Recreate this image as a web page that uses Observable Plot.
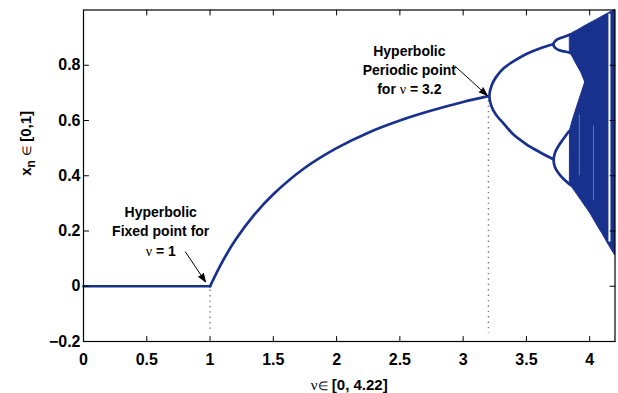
<!DOCTYPE html>
<html>
<head>
<meta charset="utf-8">
<script src="https://cdn.jsdelivr.net/npm/d3@7"></script>
<script src="https://cdn.jsdelivr.net/npm/@observablehq/plot@0.6"></script>
<style>
  html, body { margin: 0; padding: 0; background: #fff; }
  #chart svg { display: block; }
</style>
</head>
<body>
<div id="chart"></div>
<script>
// Logistic map x_{n+1} = ν x_n (1 − x_n): attractor against the parameter ν

// Axis ticks
const xTicks = [0, 0.5, 1, 1.5, 2, 2.5, 3, 3.5, 4];
const yTicks = [-0.2, 0, 0.2, 0.4, 0.6, 0.8];

// Stable fixed point x = 0 (ν ≤ 1)
const zeroNu = [0, 1];
const zeroX = [0, 0];

// Non-trivial fixed point, from ν = 1 up to the first period doubling
const fixedNu = [1, 1.1, 1.2, 1.35, 1.5, 1.75, 2, 2.25, 2.5, 2.75, 3, 3.2];
const fixedX = [0, 0.091, 0.167, 0.259, 0.333, 0.429, 0.5, 0.556, 0.6, 0.636, 0.667, 0.688];

// Period-2 orbit: lower branch (right to left), split point, upper branch
const period2Nu = [3.712, 3.6, 3.5, 3.4, 3.32, 3.26, 3.225, 3.207, 3.225, 3.26, 3.32, 3.4, 3.5, 3.6, 3.712];
const period2X = [0.460, 0.487, 0.514, 0.548, 0.589, 0.621, 0.650, 0.688, 0.727, 0.757, 0.789, 0.815, 0.841, 0.860, 0.876];

// Period-4 bubbles growing out of each period-2 branch
const bubbleHiNu = [3.85, 3.8, 3.76, 3.73, 3.712, 3.73, 3.76, 3.8, 3.85];
const bubbleHiX = [0.845, 0.850, 0.854, 0.862, 0.876, 0.889, 0.897, 0.903, 0.912];
const bubbleLoNu = [3.85, 3.79, 3.75, 3.725, 3.715, 3.725, 3.752, 3.79, 3.835];
const bubbleLoX = [0.366, 0.390, 0.412, 0.432, 0.456, 0.482, 0.507, 0.532, 0.560];

// Chaotic bands: upper band, lower band, then the merged band
const upperBandNu = [3.845, 3.87, 3.9, 3.93, 3.965];
const upperBandHi = [0.911, 0.918, 0.925, 0.933, 0.942];
const upperBandLo = [0.846, 0.826, 0.800, 0.776, 0.738];

const lowerBandNu = [3.845, 3.87, 3.9, 3.93, 3.965];
const lowerBandHi = [0.565, 0.605, 0.648, 0.690, 0.738];
const lowerBandLo = [0.369, 0.352, 0.333, 0.313, 0.290];

const mergedNu = [3.965, 4.0, 4.05, 4.1, 4.15, 4.2];
const mergedHi = [0.942, 0.951, 0.963, 0.976, 0.988, 1.0];
const mergedLo = [0.290, 0.267, 0.228, 0.190, 0.150, 0.112];

// Periodic windows inside the chaotic region
const windowNu = [4.156];
const windowLo = [0.16];
const windowHi = [0.985];
const faintNu = [3.918, 4.03];
const faintLo = [0.40, 0.31];
const faintHi = [0.62, 0.58];

// Dotted guides under the two hyperbolic points
const guideNu = [1, 3.2];
const guideTop = [-0.014, 0.672];
const guideBottom = [-0.17, -0.17];

// Annotations and their arrows
const noteText = ["Hyperbolic\nFixed point for\nν = 1", "Hyperbolic\nPeriodic point\nfor ν = 3.2"];
const noteNu = [0.61, 2.575];
const noteX = [0.30, 0.884];
const arrowFromNu = [0.806, 2.94];
const arrowFromX = [0.124, 0.795];
const arrowToNu = [0.964, 3.19];
const arrowToX = [0.016, 0.691];

const xLabel = "ν∈ [0, 4.22]";
const yLabel = "x_n ∈ [0,1]";

const lineColor = "#18318d";
const sans = "'Liberation Sans', Arial, Helvetica, sans-serif";
const serif = "'Liberation Serif', 'Times New Roman', serif";

const pts = (nu, x) => nu.map((v, i) => ({nu: v, x: x[i]}));
const band = (nu, lo, hi) => nu.map((v, i) => ({nu: v, lo: lo[i], hi: hi[i]}));

const tickShape = {draw(context, length) { context.moveTo(0, 0); context.lineTo(0, -length); }};
const tickOpts = {length: 5, anchor: "start", shape: tickShape, stroke: "black", strokeWidth: 1};
const yFormat = d => d === 0 ? "0" : (d < 0 ? "\u2212" : "") + Math.abs(d).toFixed(1);

const notes = noteText.map((t, i) => ({text: t, nu: noteNu[i], x: noteX[i]}));
const arrows = arrowFromNu.map((v, i) => ({x1: v, y1: arrowFromX[i], x2: arrowToNu[i], y2: arrowToX[i]}));

const chart = Plot.plot({
  width: 618,
  height: 393,
  marginLeft: 83,
  marginRight: 3.5,
  marginTop: 9.5,
  marginBottom: 52,
  style: {fontFamily: sans, fontWeight: "bold", color: "black", background: "white", fontSize: "16px"},
  x: {domain: [0, 4.2], label: null},
  y: {domain: [-0.2, 1], label: null},
  marks: [
    // dotted guides
    Plot.ruleX(guideNu.map((v, i) => ({nu: v, top: guideTop[i], bottom: guideBottom[i]})),
      {x: "nu", y1: "top", y2: "bottom", stroke: "#7a7a7a", strokeWidth: 1.4, strokeDasharray: "1.4,4"}),

    // chaotic bands
    Plot.areaY(band(upperBandNu, upperBandLo, upperBandHi), {x: "nu", y1: "lo", y2: "hi", fill: lineColor, stroke: lineColor, strokeWidth: 1, curve: "catmull-rom"}),
    Plot.areaY(band(lowerBandNu, lowerBandLo, lowerBandHi), {x: "nu", y1: "lo", y2: "hi", fill: lineColor, stroke: lineColor, strokeWidth: 1, curve: "catmull-rom"}),
    Plot.areaY(band(mergedNu, mergedLo, mergedHi), {x: "nu", y1: "lo", y2: "hi", fill: lineColor, stroke: lineColor, strokeWidth: 1, curve: "catmull-rom"}),
    Plot.ruleX(band(faintNu, faintLo, faintHi), {x: "nu", y1: "lo", y2: "hi", stroke: "white", strokeWidth: 1, strokeOpacity: 0.35}),
    Plot.ruleX(band(windowNu, windowLo, windowHi), {x: "nu", y1: "lo", y2: "hi", stroke: "white", strokeWidth: 2}),

    // periodic branches
    Plot.line(pts(zeroNu, zeroX), {x: "nu", y: "x", stroke: lineColor, strokeWidth: 2.7}),
    Plot.line(pts(fixedNu, fixedX), {x: "nu", y: "x", stroke: lineColor, strokeWidth: 2.7, curve: "catmull-rom"}),
    Plot.line(pts(period2Nu, period2X), {x: "nu", y: "x", stroke: lineColor, strokeWidth: 2.7, curve: "catmull-rom"}),
    Plot.line(pts(bubbleHiNu, bubbleHiX), {x: "nu", y: "x", stroke: lineColor, strokeWidth: 2.7, curve: "catmull-rom"}),
    Plot.line(pts(bubbleLoNu, bubbleLoX), {x: "nu", y: "x", stroke: lineColor, strokeWidth: 2.7, curve: "catmull-rom"}),

    // annotations
    Plot.arrow(arrows, {x1: "x1", y1: "y1", x2: "x2", y2: "y2", stroke: "black", fill: "black", strokeWidth: 1, headLength: 13, headAngle: 40}),
    Plot.text(notes, {x: "nu", y: "x", text: "text", lineAnchor: "top", fontSize: 14, fontWeight: "bold", lineHeight: 1.38, fill: "black"}),

    // frame with inward ticks on all four sides
    Plot.frame({stroke: "black", strokeWidth: 1.2}),
    Plot.vector(xTicks, {x: d => d, frameAnchor: "bottom", rotate: 0, ...tickOpts}),
    Plot.vector(xTicks, {x: d => d, frameAnchor: "top", rotate: 180, ...tickOpts}),
    Plot.vector(yTicks, {y: d => d, frameAnchor: "left", rotate: 90, ...tickOpts}),
    Plot.vector(yTicks, {y: d => d, frameAnchor: "right", rotate: 270, ...tickOpts}),
    Plot.axisX({ticks: xTicks, tickSize: 0, tickPadding: 12, tickFormat: d => String(d), fontSize: 16, fontWeight: "bold", label: null}),
    Plot.axisY({ticks: yTicks, tickSize: 0, tickPadding: 3, tickFormat: yFormat, fontSize: 16, fontWeight: "bold", label: null}),

    // axis titles
    Plot.text([xLabel], {frameAnchor: "bottom", dy: 44, lineAnchor: "middle", fontSize: 15, fontWeight: "bold", fill: "black"}),
    Plot.text([yLabel], {frameAnchor: "left", dx: -57, rotate: -90, lineAnchor: "middle", fontSize: 15, fontWeight: "bold", fill: "black"})
  ]
});

// Greek letters and set symbols in a light serif face, "_n" as a subscript
function decorate(svg) {
  const ns = "http://www.w3.org/2000/svg";
  svg.querySelectorAll("text, tspan").forEach(el => {
    if (el.children.length) return;
    const s = el.textContent;
    if (!/[ν∈_]/.test(s)) return;
    el.textContent = "";
    const re = /(_\w)|(ν)|(∈)|([^ν∈_]+)/g;
    let m, shifted = false;
    while ((m = re.exec(s))) {
      const t = document.createElementNS(ns, "tspan");
      if (m[1]) {
        t.textContent = m[1].slice(1);
        t.setAttribute("dy", "4");
        t.setAttribute("font-size", "12");
        shifted = true;
      } else {
        t.textContent = m[2] || m[3] || m[4];
        if (m[2] || m[3]) {
          t.setAttribute("font-family", serif);
          t.setAttribute("font-weight", "normal");
        }
        if (m[3]) t.setAttribute("font-size", "0.8em");
        if (shifted) { t.setAttribute("dy", "-4"); shifted = false; }
      }
      el.appendChild(t);
    }
  });
}
decorate(chart);
document.getElementById("chart").appendChild(chart);
</script>
</body>
</html>
